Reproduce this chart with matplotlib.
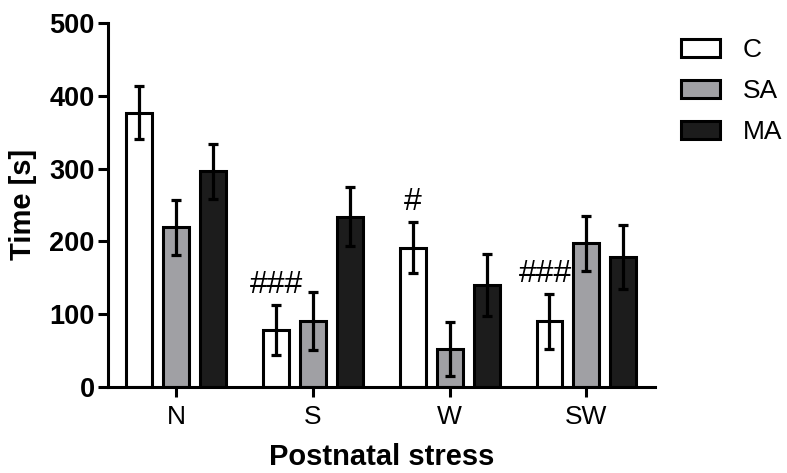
import matplotlib
matplotlib.use("Agg")
import matplotlib.pyplot as plt
import numpy as np

plt.rcParams['font.family'] = ['Liberation Sans', 'DejaVu Sans']

groups = ["N", "S", "W", "SW"]
series = ["C", "SA", "MA"]
C_vals = [377, 78, 191, 90]
C_err = [37, 34, 35, 38]
SA_vals = [219, 90, 52, 197]
SA_err = [38, 40, 37, 38]
MA_vals = [296, 234, 140, 179]
MA_err = [38, 41, 43, 44]
colors = ["#ffffff", "#a0a0a4", "#1c1c1c"]
sig_labels = ["", "###", "#", "###"]

fig = plt.figure(figsize=(7.87, 4.73), dpi=100)
ax = fig.add_axes([0.137, 0.1825, 0.695, 0.7685])

x = np.arange(len(groups))
pitch = 0.27
width = 0.19
vals = [C_vals, SA_vals, MA_vals]
errs = [C_err, SA_err, MA_err]
handles = []
for i, (v, e, col, name) in enumerate(zip(vals, errs, colors, series)):
    pos = x + (i - 1) * pitch
    b = ax.bar(pos, v, width, color=col, edgecolor="black", linewidth=2.2,
               label=name, zorder=2)
    ax.errorbar(pos, v, yerr=e, fmt="none", ecolor="black", elinewidth=2.3,
                capsize=3.6, capthick=2.3, zorder=3)
    handles.append(b)

sig_shift = [0, 0, 0, -0.03]
for j, s in enumerate(sig_labels):
    if s:
        xpos = x[j] - pitch + sig_shift[j]
        ax.text(xpos, C_vals[j] + C_err[j] + 7, s,
                ha="center", va="bottom", fontsize=23)

ax.set_xlim(-0.5, 3.5)
ax.set_ylim(0, 500)
ax.set_yticks([0, 100, 200, 300, 400, 500])
ax.set_xticks(x)
ax.set_xticklabels(groups, fontsize=19)
for lab in ax.get_yticklabels():
    lab.set_fontsize(19.5)
    lab.set_fontweight("bold")
ax.spines["top"].set_visible(False)
ax.spines["right"].set_visible(False)
ax.spines["left"].set_linewidth(2.2)
ax.spines["bottom"].set_linewidth(2.2)
ax.tick_params(axis="both", direction="out", length=7.5, width=2.2)
ax.tick_params(axis="x", pad=6)
ax.tick_params(axis="y", pad=2)

ax.set_ylabel("Time [s]", fontsize=21, fontweight="bold", labelpad=9)
ax.set_xlabel("Postnatal stress", fontsize=21, fontweight="bold", labelpad=10)

leg = fig.legend(handles=handles, labels=series, loc="upper left",
                 bbox_to_anchor=(0.865, 0.919), frameon=False, fontsize=19,
                 handlelength=1.5, handleheight=0.65, labelspacing=0.64,
                 handletextpad=0.85, borderpad=0.0, borderaxespad=0.0)

fig.savefig("out.png", dpi=100)
